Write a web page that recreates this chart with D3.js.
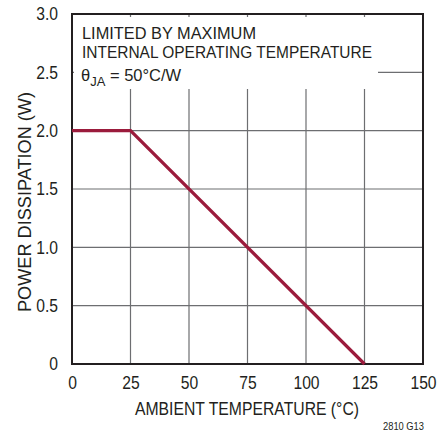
<!DOCTYPE html>
<html>
<head>
<meta charset="utf-8">
<script src="https://cdn.jsdelivr.net/npm/d3@7"></script>
<style>
  body { margin: 0; background: #fff; }
  svg text { font-family: "Liberation Sans", Arial, sans-serif; fill: #231f20; }
</style>
</head>
<body>
<div class="chart"></div>
<script>
// data
const tempC = [0, 25, 125];
const powerW = [2.0, 2.0, 0];
const xTicks = [0, 25, 50, 75, 100, 125, 150];
const yTicks = [0, 0.5, 1.0, 1.5, 2.0, 2.5, 3.0];
const yTickLabels = ["0", "0.5", "1.0", "1.5", "2.0", "2.5", "3.0"];
const noteLines = ["LIMITED BY MAXIMUM", "INTERNAL OPERATING TEMPERATURE"];
const noteWidths = [174, 290];

const W = 440, H = 433;
const mLeft = 72, mRight = 423, mTop = 14, mBottom = 364;
const lineColor = "#9b1b3c";
const gridColor = "#6d6e71";

const svg = d3.select(".chart").append("svg")
    .attr("width", W)
    .attr("height", H);

const x = d3.scaleLinear().domain([0, 150]).range([mLeft, mRight]);
const y = d3.scaleLinear().domain([0, 3]).range([mBottom, mTop]);

// narrow the glyphs a bit, the original uses a condensed face
function condense(sel, k) {
    sel.each(function() {
        const w = this.getComputedTextLength();
        d3.select(this).attr("textLength", w * k).attr("lengthAdjust", "spacingAndGlyphs");
    });
}

// grid
const grid = svg.append("g");
grid.selectAll("line.v")
    .data(xTicks.slice(1, -1))
    .join("line")
    .attr("class", "v")
    .attr("x1", d => x(d)).attr("x2", d => x(d))
    .attr("y1", mTop).attr("y2", mBottom)
    .attr("stroke", gridColor)
    .attr("stroke-width", 1.2);
grid.selectAll("line.h")
    .data(yTicks.slice(1, -1))
    .join("line")
    .attr("class", "h")
    .attr("x1", mLeft).attr("x2", mRight)
    .attr("y1", d => y(d)).attr("y2", d => y(d))
    .attr("stroke", gridColor)
    .attr("stroke-width", 1.2);

// white box behind the note
svg.append("rect")
    .attr("x", mLeft + 2)
    .attr("y", mTop + 3)
    .attr("width", 378 - mLeft - 2)
    .attr("height", 89 - mTop - 3)
    .attr("fill", "#fff");

// axes labels
const xAxis = d3.axisBottom(x).tickValues(xTicks).tickSize(0).tickPadding(0);
svg.append("g")
    .attr("transform", `translate(0,${mBottom})`)
    .call(xAxis)
    .call(g => g.select(".domain").remove())
    .call(g => g.selectAll("text")
        .attr("dy", null).attr("y", 25)
        .attr("font-size", 18).attr("fill", "#231f20")
        .call(condense, 0.87));

const yAxis = d3.axisLeft(y).tickValues(yTicks)
    .tickFormat((d, i) => yTickLabels[i]).tickSize(0).tickPadding(14);
svg.append("g")
    .attr("transform", `translate(${mLeft},0)`)
    .call(yAxis)
    .call(g => g.select(".domain").remove())
    .call(g => g.selectAll("text").attr("font-size", 18).attr("fill", "#231f20")
        .call(condense, 0.87));

// frame
svg.append("rect")
    .attr("x", mLeft).attr("y", mTop)
    .attr("width", mRight - mLeft).attr("height", mBottom - mTop)
    .attr("fill", "none")
    .attr("stroke", "#231f20")
    .attr("stroke-width", 2);

// curve
const line = d3.line().x((d, i) => x(tempC[i])).y(d => y(d));
svg.append("path")
    .datum(powerW)
    .attr("d", line)
    .attr("fill", "none")
    .attr("stroke", lineColor)
    .attr("stroke-width", 3.2);

// note
svg.selectAll("text.note")
    .data(noteLines)
    .join("text")
    .attr("class", "note")
    .attr("x", 82)
    .attr("y", (d, i) => 39 + i * 18.5)
    .attr("font-size", 16.5)
    .attr("textLength", (d, i) => noteWidths[i])
    .attr("lengthAdjust", "spacingAndGlyphs")
    .text(d => d);
const theta = svg.append("text")
    .attr("x", 81)
    .attr("y", 81)
    .attr("font-size", 16.5);
theta.append("tspan").text("θ");
theta.append("tspan").attr("dy", 5).attr("font-size", 13).text("JA");
theta.append("tspan").attr("dy", -5).text(" = 50°C/W");

// titles
svg.append("text")
    .attr("x", 247)
    .attr("y", 415)
    .attr("text-anchor", "middle")
    .attr("font-size", 18)
    .attr("textLength", 224)
    .attr("lengthAdjust", "spacingAndGlyphs")
    .text("AMBIENT TEMPERATURE (°C)");
svg.append("text")
    .attr("transform", "translate(31,202) rotate(-90)")
    .attr("text-anchor", "middle")
    .attr("font-size", 18)
    .attr("textLength", 220)
    .attr("lengthAdjust", "spacingAndGlyphs")
    .text("POWER DISSIPATION (W)");
svg.append("text")
    .attr("x", 424)
    .attr("y", 430)
    .attr("text-anchor", "end")
    .attr("font-size", 11)
    .attr("textLength", 41)
    .attr("lengthAdjust", "spacingAndGlyphs")
    .text("2810 G13");
</script>
</body>
</html>
